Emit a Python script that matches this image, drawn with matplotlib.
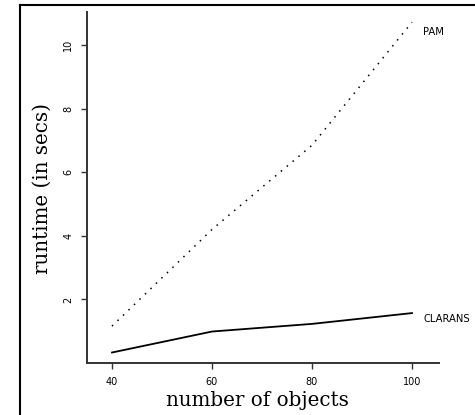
import matplotlib
matplotlib.use('Agg')
import matplotlib.pyplot as plt
from matplotlib.lines import Line2D

# values
n_objects = [40, 60, 80, 100]
pam_secs = [1.16, 4.2, 6.85, 10.72]
clarans_secs = [0.33, 0.99, 1.23, 1.57]
x_ticks = [40, 60, 80, 100]
y_ticks = [2, 4, 6, 8, 10]

W, H = 475, 415
fig = plt.figure(figsize=(W / 100, H / 100), dpi=100)
ax = fig.add_axes([87 / W, 1 - 363 / H, (439 - 87) / W, (363 - 12) / H])

ax.plot(n_objects, pam_secs, color='black', lw=1.1, linestyle=(0, (1, 4)))
ax.plot(n_objects, clarans_secs, color='black', lw=1.3)

ax.text(n_objects[-1] + 2.2, pam_secs[-1] - 0.3, 'PAM', fontsize=7.2, va='center', ha='left')
ax.text(n_objects[-1] + 2.2, clarans_secs[-1] - 0.2, 'CLARANS', fontsize=7.2, va='center', ha='left')

ax.set_xlim(35, 105.4)
ax.set_ylim(0, 11.04)
ax.set_xticks(x_ticks)
ax.set_yticks(y_ticks)
ax.set_xticklabels([str(v) for v in x_ticks], fontsize=7)
ax.set_yticklabels([str(v) for v in y_ticks], fontsize=7, rotation=90, va='center')
ax.tick_params(direction='out', length=4, width=1, color='#333333', pad=6)

for s in ['top', 'right']:
    ax.spines[s].set_visible(False)
for s in ['left', 'bottom']:
    ax.spines[s].set_linewidth(1.4)
    ax.spines[s].set_color('#333333')

fig.text(42 / W, 1 - 188 / H, 'runtime (in secs)', rotation=90, ha='center', va='center',
         family='DejaVu Serif', fontsize=14.3)
fig.text(257 / W, 1 - 400 / H, 'number of objects', ha='center', va='center',
         family='DejaVu Serif', fontsize=14.3)

# frame lines (left and top) around the figure
fig.add_artist(Line2D([20 / W, 20 / W], [0, 1 - 5 / H], transform=fig.transFigure, color='black', lw=1.5))
fig.add_artist(Line2D([20 / W, 1], [1 - 5 / H, 1 - 5 / H], transform=fig.transFigure, color='black', lw=1.5))

fig.savefig('out.png', dpi=100)
